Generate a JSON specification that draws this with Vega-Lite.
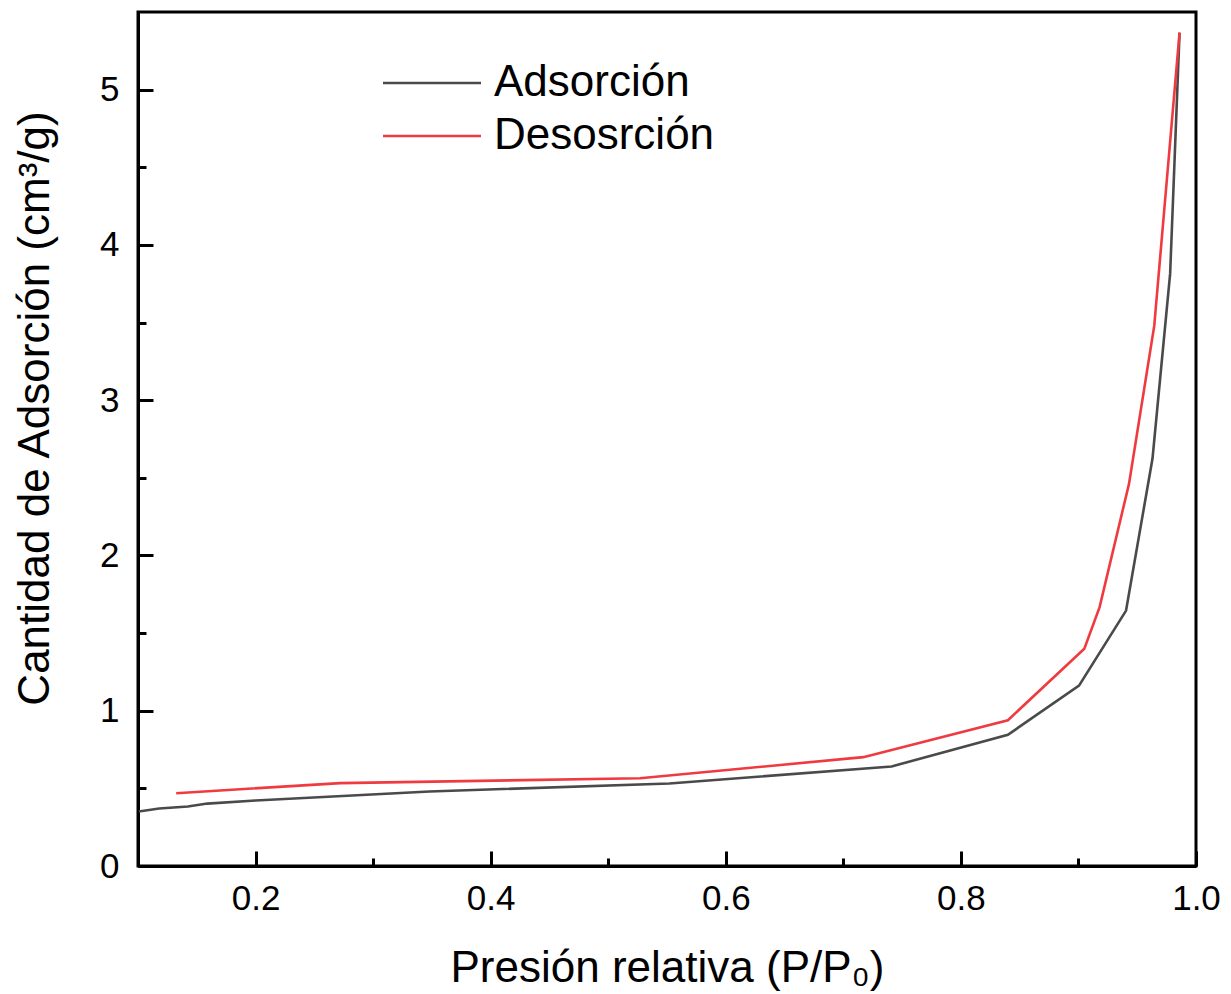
{
  "$schema": "https://vega.github.io/schema/vega-lite/v6.json",
  "autosize": "none",
  "width": 1058,
  "height": 854,
  "padding": {"left": 138, "top": 12, "right": 35, "bottom": 128},
  "background": "white",
  "config": {
    "font": "Liberation Sans",
    "view": {"stroke": "black", "strokeWidth": 3},
    "axis": {"grid": false, "domainColor": "black", "domainWidth": 3, "tickColor": "black", "tickWidth": 3, "labelColor": "black", "titleColor": "black", "titleFontWeight": "normal"}
  },
  "data": {"values": [
    {"p": 0.1007, "v": 0.351, "serie": "Adsorción"},
    {"p": 0.118, "v": 0.370, "serie": "Adsorción"},
    {"p": 0.1424, "v": 0.383, "serie": "Adsorción"},
    {"p": 0.159, "v": 0.402, "serie": "Adsorción"},
    {"p": 0.200, "v": 0.422, "serie": "Adsorción"},
    {"p": 0.348, "v": 0.480, "serie": "Adsorción"},
    {"p": 0.552, "v": 0.531, "serie": "Adsorción"},
    {"p": 0.741, "v": 0.641, "serie": "Adsorción"},
    {"p": 0.840, "v": 0.845, "serie": "Adsorción"},
    {"p": 0.9005, "v": 1.162, "serie": "Adsorción"},
    {"p": 0.9405, "v": 1.645, "serie": "Adsorción"},
    {"p": 0.963, "v": 2.624, "serie": "Adsorción"},
    {"p": 0.978, "v": 3.815, "serie": "Adsorción"},
    {"p": 0.986, "v": 5.367, "serie": "Adsorción"},
    {"p": 0.1325, "v": 0.469, "serie": "Desosrción"},
    {"p": 0.272, "v": 0.534, "serie": "Desosrción"},
    {"p": 0.527, "v": 0.565, "serie": "Desosrción"},
    {"p": 0.717, "v": 0.701, "serie": "Desosrción"},
    {"p": 0.840, "v": 0.939, "serie": "Desosrción"},
    {"p": 0.905, "v": 1.399, "serie": "Desosrción"},
    {"p": 0.918, "v": 1.667, "serie": "Desosrción"},
    {"p": 0.943, "v": 2.461, "serie": "Desosrción"},
    {"p": 0.9645, "v": 3.480, "serie": "Desosrción"},
    {"p": 0.986, "v": 5.367, "serie": "Desosrción"}
  ]},
  "resolve": {"axis": {"x": "independent", "y": "independent"}},
  "layer": [
    {
      "mark": {"type": "line", "strokeWidth": 2.6, "clip": true},
      "encoding": {
        "x": {"field": "p", "type": "quantitative",
          "scale": {"domain": [0.1, 1.0], "nice": false, "zero": false},
          "axis": {"orient": "bottom", "values": [0.2, 0.4, 0.6, 0.8, 1.0], "format": ".1f", "tickSize": -15, "labelPadding": 30, "labelFontSize": 35, "labelFlush": false, "title": "Presión relativa (P/P₀)", "titleFontSize": 44, "titlePadding": 30}},
        "y": {"field": "v", "type": "quantitative",
          "scale": {"domain": [0, 5.5], "nice": false, "zero": false},
          "axis": {"orient": "left", "values": [0, 1, 2, 3, 4, 5], "format": "d", "tickSize": -15, "labelPadding": 34, "labelFontSize": 35, "labelFlush": false, "title": "Cantidad de Adsorción (cm³/g)", "titleFontSize": 44, "titlePadding": 42, "titleY": 396}},
        "color": {"field": "serie", "type": "nominal",
          "scale": {"domain": ["Adsorción", "Desosrción"], "range": ["#4a4a4a", "#ef3b3f"]},
          "legend": {"title": null, "orient": "none", "legendX": 268, "legendY": 45, "symbolType": "M-2,0H2", "symbolSize": 2401, "symbolStrokeWidth": 2.6, "labelFontSize": 44, "labelLimit": 0, "labelColor": "black", "labelOffset": 36, "rowPadding": 5, "padding": 0}}
      }
    },
    {
      "mark": {"type": "point", "opacity": 0},
      "encoding": {
        "x": {"field": "p", "type": "quantitative",
          "axis": {"orient": "bottom", "values": [0.3, 0.5, 0.7, 0.9], "tickSize": -8, "labels": false, "domain": false, "title": null}},
        "y": {"field": "v", "type": "quantitative",
          "axis": {"orient": "left", "values": [0.5, 1.5, 2.5, 3.5, 4.5], "tickSize": -8, "labels": false, "domain": false, "title": null}}
      }
    }
  ]
}
